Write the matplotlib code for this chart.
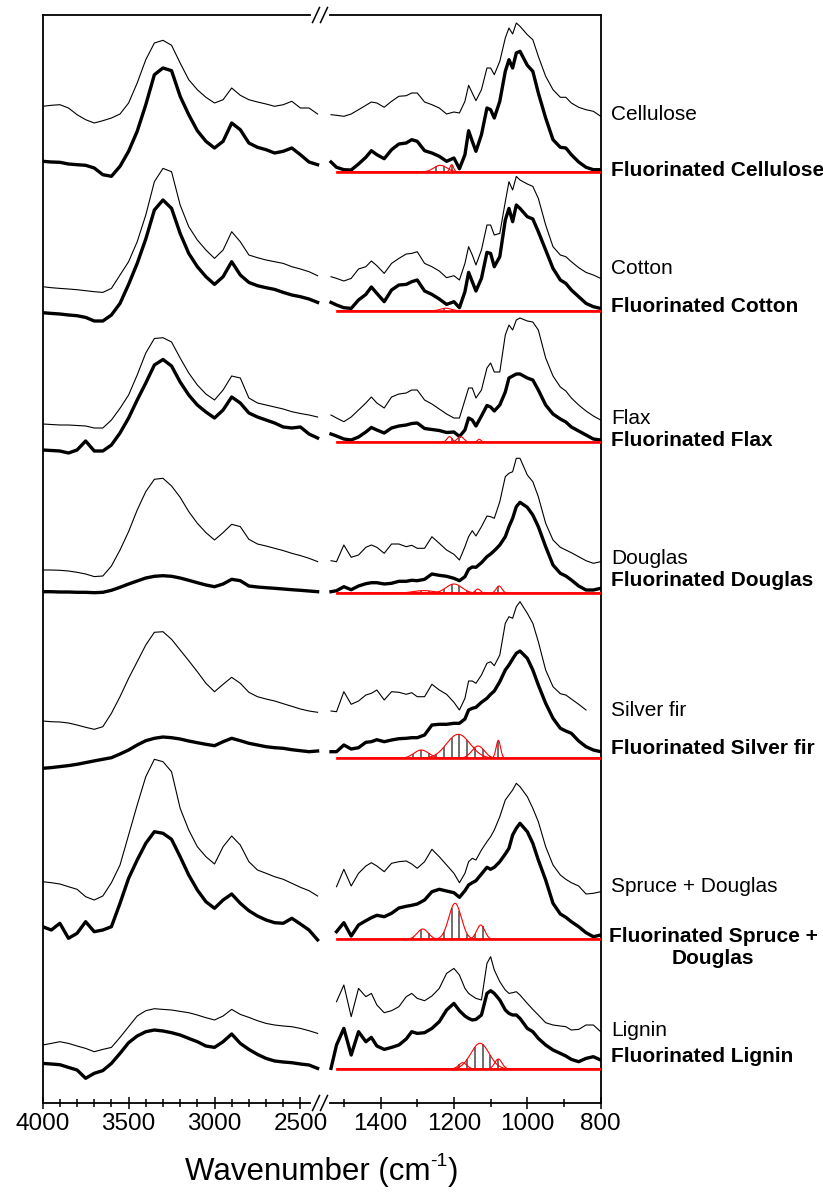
import numpy as np
import matplotlib.pyplot as plt
from matplotlib.lines import Line2D

plt.rcParams["font.family"] = ["Liberation Sans", "DejaVu Sans"]

nan = np.nan

# wavenumber grids (cm-1) where the spectra were read
W_LEFT = [4000, 3950, 3900, 3850, 3800, 3750, 3700, 3650, 3600, 3550, 3500,
          3450, 3400, 3350, 3300, 3250, 3200, 3150, 3100, 3050, 3000, 2950,
          2900, 2850, 2800, 2750, 2700, 2650, 2600, 2550, 2500, 2450, 2400]
W_RIGHT = [1535, 1520, 1500, 1480, 1460, 1440, 1425, 1410, 1390, 1370, 1350,
           1330, 1315, 1300, 1280, 1260, 1240, 1220, 1200, 1185, 1170, 1160,
           1150, 1140, 1125, 1110, 1100, 1090, 1075, 1060, 1050, 1040, 1030,
           1020, 1000, 985, 970, 950, 930, 910, 895, 880, 860, 840, 820, 800]

SAMPLES = ["Cellulose", "Cotton", "Flax", "Douglas", "Silver fir",
           "Spruce + Douglas", "Lignin"]
# vertical offset of each pair of spectra (same units as the spectra)
OFFSETS = [931, 792.3, 660.7, 509.7, 344.7, 163.7, 34]

# ---- Cellulose ----
cellulose_l = [65.7, 66.7, 67.3, 64, 57.3, 52.3, 49, 51.3, 54, 58, 69, 89, 112.3, 129, 131.7,
               126.7, 109, 92.3, 82.3, 74.7, 69, 72.3, 84, 76.7, 72.3, 70, 68, 65.7, 67.3,
               70.7, 64, 64, 58]
f_cellulose_l = [10.7, 10, 9.7, 8, 7.3, 6.7, 4, -2.7, -4.3, 5.7, 20.7, 40.7, 67.3, 97.3, 104,
                 101.3, 75.7, 57.3, 41.3, 30.7, 24, 30.7, 49, 42.3, 29, 24.7, 22.3, 19, 20.7,
                 24, 17.3, 10, 7.3]
cellulose_r = [57.3, 56.7, 55.7, 58, 62.3, 66.7, 70, 69, 64.7, 70.7, 75.7, 76.3, 79, 79, 70,
               67.3, 64, 58, 60, 59, 70.7, 86.7, 79, 71.3, 82.3, 104, 104, 97.3, 110.7, 134,
               144, 138, 149, 145.7, 137.3, 132.3, 115.7, 95.7, 82.3, 74.7, 74.7, 69, 64.7,
               62.3, 60.7, 55.7]
f_cellulose_r = [10, 4.7, 2.3, 2, 8, 14.7, 21.3, 17.3, 13.3, 22.3, 28, 29, 32.3, 30.7, 21.3,
                 19, 15.7, 10.7, 14, 3.3, 17.3, 41.3, 30.7, 20.7, 37.3, 64, 62.3, 54, 70.7,
                 100.7, 112.3, 104, 119, 120.7, 106.7, 100.7, 79, 54, 32.3, 24.7, 24, 17.3,
                 10, 4.7, 2.3, 2.3]
cellulose_peaks = [(1237, 6.7, 18), (1206, 7.3, 5)]

# ---- Cotton ----
cotton_l = [24, 23, 22.3, 21.7, 21, 20, 19, 18.3, 22.3, 35.7, 49, 69, 95.7, 129, 142.3, 139,
            105.7, 84, 70.7, 60.7, 52.3, 60.7, 79, 69, 55.7, 53, 50.7, 49, 47.3, 44, 41.7,
            39, 35]
f_cotton_l = [-2, -2.7, -3.3, -4.3, -5, -6.7, -10.3, -10.3, -4.3, 7.3, 26.3, 47.3, 71.7, 100.7,
              110.7, 102.3, 77.3, 57.3, 44, 34, 26.3, 34, 49, 35.7, 28.3, 25, 23, 21.3, 18.3,
              15.7, 14, 11.7, 8.3]
cotton_r = [34, 32.3, 29.7, 32.3, 41.7, 44, 49.7, 45, 37.3, 47.3, 52.3, 56.7, 57.3, 59, 47.3,
            44, 39.7, 33, 35, 30.7, 47.3, 64, 55.7, 45.7, 60.7, 85.7, 85.7, 75.7, 77.3, 109,
            129, 120.7, 134.3, 130.7, 126.7, 124.3, 112.3, 85.7, 64, 55.7, 54, 49, 43, 38.3,
            35.7, 32.3]
f_cotton_r = [8.3, 5.7, 3, 2.3, 10.7, 16.3, 23.7, 17.3, 9, 20.7, 25.7, 26.3, 29, 30.7, 19.7,
              16.3, 11.7, 6.3, 9, 3, 19, 38.3, 29, 19.7, 32.3, 58.3, 57.3, 44, 54, 90.7, 102.3,
              89, 105.7, 102.3, 94, 91.7, 79, 60.7, 42.3, 30.7, 27.3, 20.7, 14, 7.3, 4, 2.3]
cotton_peaks = [(1222, 2.5, 14)]

# ---- Flax ----
flax_l = [18.3, 17.8, 17.3, 17.3, 16.8, 16.3, 14.3, 14.3, 22.3, 34, 47.3, 67.3, 89.3, 103.8,
          104.6, 100.3, 84.3, 69.3, 57.3, 48.3, 42.3, 52.3, 66.3, 64.3, 44.3, 39.3, 37.3,
          35.3, 33.3, 30.6, 28.8, 27.3, 25.3]
f_flax_l = [-7.7, -8.2, -8.7, -10.7, -7.7, 1.3, -8.7, -8.7, -2.7, 9.3, 24.3, 42.3, 59.3, 77.3,
            82.8, 76.3, 60.3, 47.3, 37.3, 30.3, 24.3, 32.3, 45.3, 39.3, 29.3, 25.3, 22.3,
            19.3, 15.3, 14.3, 15.3, 8.3, 4.3]
flax_r = [27.3, 24.3, 20.6, 25.3, 32.3, 39.3, 45.3, 39.3, 34.3, 45.3, 48.3, 49.3, 52.3, 52.3,
          42.3, 38.3, 33.3, 28.3, 24.3, 24.3, 42.3, 54.3, 54.3, 44.3, 52.3, 74.3, 79.3, 70.3,
          70.3, 107.3, 117.3, 112.3, 122.3, 124.3, 121.3, 120.3, 112.3, 84.3, 66.3, 55.3,
          51.3, 44.3, 37.3, 31.3, 26.3, 22.3]
f_flax_r = [8.3, 6.3, 3.3, 2.3, 5.3, 10.3, 14.8, 12.3, 9.3, 14.3, 16.3, 17.3, 18.8, 19.3, 13.8,
            12.8, 11.8, 9.8, 10.3, 5.8, 12.3, 24.3, 22.3, 16.3, 26.3, 36.8, 35.3, 31.3, 37.3,
            50.3, 64.3, 66.3, 68.3, 68.3, 64.3, 62.3, 52.3, 37.3, 28.3, 23.3, 20.3, 15.3,
            11.3, 7.3, 3.3, 2.3]
flax_peaks = [(1212, 5.7, 7), (1182, 5.7, 9), (1131, 3, 5)]

# ---- Douglas ----
douglas_l = [23.3, 23.3, 23, 22.3, 21, 19.3, 16.7, 17.3, 27.3, 43.3, 61.7, 83.3, 101.7, 114,
             115, 107.3, 96, 81.7, 70, 60.7, 53.3, 60.7, 69, 66.7, 54, 49.3, 47.3, 45, 42.7,
             40, 37.7, 35, 31.7]
f_douglas_l = [1.6, 1.6, 1.3, 1.3, 1, 1, 0.6, 1, 3, 6, 9.3, 12.3, 15.3, 17, 17.6, 17, 15.3, 13,
               10.6, 8.3, 6.6, 9.3, 14, 12.6, 7.3, 6.3, 5.6, 5, 4.3, 3.6, 3, 2.3, 1.6]
douglas_r = [32.6, 31.6, 48.3, 36, 38.3, 46, 48.3, 46, 40, 49.3, 49.3, 46.6, 48, 45, 45, 56.6,
             50, 43.3, 39, 33.3, 46.6, 56.6, 62.6, 57.3, 66.6, 77.3, 76.6, 75, 91.6, 116.6,
             120, 121.6, 135, 135, 118.3, 111.6, 96.6, 70, 53.3, 46, 43.3, 40.6, 36.6, 32.6,
             30, 31.6]
f_douglas_r = [1.6, 2.6, 6.6, 3.6, 7.3, 9.6, 10.6, 10.6, 9.3, 10, 12, 12, 13, 12.6, 14, 19.3,
               18, 17, 15, 12.6, 16.6, 24, 26.3, 26, 30.6, 36.6, 39.3, 42.6, 48.3, 56.6, 66.6,
               75, 86.6, 91, 86, 78.3, 66.6, 46.6, 28.3, 20, 17.3, 13.3, 7.3, 3.3, 3.3, 5]
douglas_peaks = [(1282, 2.7, 30), (1200, 9.3, 22), (1135, 4.3, 7), (1077, 7.3, 8)]

# ---- Silver fir ----
silver_l = [37.3, 36.6, 36.3, 35.3, 33.3, 31, 29, 31.6, 45, 61.6, 80, 96.6, 113.3, 126, 126.6,
            119, 108.3, 97.6, 86.6, 75, 66.6, 74, 81, 75, 66, 61.6, 59.3, 57.3, 54.6, 52,
            49.3, 47.3, 46]
f_silver_l = [-10, -9.3, -8.3, -7.3, -6, -4.3, -2.6, -1, 0.6, 4.3, 8.3, 13.3, 17.6, 20, 21.3,
              20.6, 19.3, 17.3, 15.6, 14, 12.6, 16.6, 20, 17.6, 15, 13.3, 11.6, 10.6, 10, 8.6,
              7.6, 6.6, 7.3]
silver_r = [47.3, 46.6, 66.6, 54, 57.3, 63.3, 65, 68.3, 58.3, 66.6, 66, 64, 65.6, 61.6, 61.6,
            74, 68.3, 64, 56, 48.3, 60, 77.3, 77.3, 75, 83.3, 95, 96.6, 92.6, 103.3, 135,
            141.6, 140, 151.6, 156.6, 145, 135, 116.6, 88.3, 71.6, 64.6, 63.3, 59.3, 54,
            48.3, nan, nan]
f_silver_r = [6.6, 6.6, 13.3, 9.3, 10.6, 16, 16.6, 18.6, 16.6, 18.3, 19.6, 20, 20.6, 20.6,
              23.3, 33.3, 34, 34, 35, 35, 39.3, 48.3, 50, 51, 56, 60, 64, 67.3, 76.6, 88.3,
              93.3, 99.3, 105, 107.3, 100, 88.3, 73.3, 55, 40, 30, 27.3, 25, 17.3, 11.6, 8.3,
              6.6]
silver_peaks = [(1289, 8.3, 20), (1188, 24, 32), (1134, 12.3, 17), (1079, 18, 6)]

# ---- Spruce + Douglas ----
spruce_l = [57.6, 56.6, 55.3, 52.6, 50, 42.6, 39.3, 43.3, 56.6, 74.3, 104.3, 134.3, 162.6,
            180, 177.6, 167.6, 131, 109.3, 92.6, 82.6, 75.3, 92.6, 103.3, 94.3, 77.6, 69.3,
            66, 62.6, 60, 56, 52, 48.6, 43.3]
f_spruce_l = [12.6, 9.3, 16, 1, 6, 17.6, 7.6, 9.3, 12.6, 36, 61, 79.3, 96, 107.6, 106, 100,
              82.6, 64.3, 49.3, 37.6, 31, 39.3, 45.3, 36, 28.6, 23.3, 19.3, 16.6, 16, 21,
              15.3, 9.3, -0.6]
spruce_r = [nan, 52.6, 70, 53.3, 66, 73.3, 76.6, 73.3, 67.6, 76, 77.6, 78.3, 75.3, 71, 77.6,
            90, 82.6, 74.3, 66, 56.6, 66, 77.6, 81, 79.3, 89.3, 97.6, 102.6, 109.3, 122.6,
            139.3, 144.3, 149.3, 156, 152.6, 142.6, 131, 117.6, 92.6, 74.3, 64.3, 60, 56.6,
            53.3, 45.3, 46, 47.6]
f_spruce_r = [nan, 7.6, 16.6, 3.3, 14.3, 18.6, 21.6, 24, 22.6, 26, 31.3, 33, 34, 35.3, 39.3,
              47.6, 50, 48.3, 46.6, 42, 48.6, 54.3, 56.6, 58.6, 65.3, 72, 70, 72, 77.6, 85.3,
              91, 104.3, 111, 116, 107.6, 96, 79.3, 59.3, 36, 25.3, 22, 17.6, 12.6, 6.6, 2.6,
              4.3]
spruce_peaks = [(1285, 10.3, 15), (1197, 36, 17), (1127, 14.3, 11)]

# ---- Lignin ----
lignin_l = [24, 25.6, 27.3, 25.6, 23, 20.6, 17.3, 19.6, 21.6, 31.6, 42.3, 53, 58.3, 60.3, 59.6,
            59, 57.6, 56.3, 54, 51.3, 49, 53, 59.6, 54.6, 51.6, 48.3, 45.6, 44, 43, 42.3,
            40.6, 38.3, 35.6]
f_lignin_l = [5.6, 5, 4.3, 1.6, -1, -9.3, -4.3, -1.6, 5.6, 15.6, 26.3, 33, 37.3, 39, 38, 36.3,
              34, 30.6, 27.3, 23, 21.6, 27.3, 35, 25.6, 19.6, 14.6, 10.6, 8, 7, 6.3, 5, 4, 0.6]
lignin_r = [nan, 67.3, 84, 52.3, 80.6, 72.3, 75.6, 64, 56.3, 58.3, 62.3, 72.3, 75.6, 70.6,
            68.3, 73, 80.6, 95.6, 100.6, 94, 80.6, 75.6, 73, 70.6, 69, 105.6, 112.3, 99,
            87.3, 79, 75.6, 76.3, 77.3, 74, 65.6, 59.6, 54, 46.3, 44, 43, 42.3, 39, 39.6, 44,
            44, 37.3]
f_lignin_r = [0.6, 24, 40.6, 14, 37.3, 27.3, 31.6, 23, 19.6, 21.6, 24, 30, 37.3, 35.6, 36.3,
              40.6, 47.3, 59, 65.6, 58.3, 53, 50.6, 49, 49.6, 54, 75.6, 78.3, 75.6, 69, 59,
              55.6, 54, 54, 50.6, 40.6, 37.3, 30.6, 24, 19, 15.6, 13, 9.6, 7.3, 10.6, 12.3, 9]
lignin_peaks = [(1176, 6.3, 11), (1129, 25.7, 25), (1079, 10, 10)]

SPECTRA = [
    (cellulose_l, f_cellulose_l, cellulose_r, f_cellulose_r, cellulose_peaks),
    (cotton_l, f_cotton_l, cotton_r, f_cotton_r, cotton_peaks),
    (flax_l, f_flax_l, flax_r, f_flax_r, flax_peaks),
    (douglas_l, f_douglas_l, douglas_r, f_douglas_r, douglas_peaks),
    (silver_l, f_silver_l, silver_r, f_silver_r, silver_peaks),
    (spruce_l, f_spruce_l, spruce_r, f_spruce_r, spruce_peaks),
    (lignin_l, f_lignin_l, lignin_r, f_lignin_r, lignin_peaks),
]

# label positions (pixels from top) : (plain, fluorinated)
LABEL_Y = [(115, 171), (268, 307), (418, 440), (558, 580), (710, 749), (887, 947.5),
           (1031, 1057)]

W, H = 823, 1193


def fx(px):
    return px / W


def fy(py):
    return 1 - py / H


fig = plt.figure(figsize=(W / 100, H / 100), dpi=100)
ax_l = fig.add_axes([fx(42.7), fy(1103), (320 - 42.7) / W, 1088 / H])
ax_r = fig.add_axes([fx(320), fy(1103), (600.7 - 320) / W, 1088 / H])

ax_l.set_xlim(4000, 2386)
ax_r.set_xlim(1565, 800)
for ax in (ax_l, ax_r):
    ax.set_ylim(0, 1088)
    ax.set_yticks([])
    for sp in ax.spines.values():
        sp.set_linewidth(1.3)
    ax.tick_params(axis="x", which="major", direction="inout", length=9, width=1.1,
                   labelsize=17.5, pad=3)
    ax.tick_params(axis="x", which="minor", direction="inout", length=6, width=1.1)
ax_l.spines["right"].set_visible(False)
ax_r.spines["left"].set_visible(False)

ax_l.set_xticks([4000, 3500, 3000, 2500])
ax_l.set_xticks([3900, 3800, 3700, 3600, 3400, 3300, 3200, 3100, 2900, 2800, 2700,
                 2600], minor=True)
ax_r.set_xticks([1400, 1200, 1000, 800])
ax_r.set_xticks([1500, 1300, 1100, 900], minor=True)

w_fine = np.linspace(1518, 800, 900)
w_hatch = np.arange(1500, 800, -21)

for off, (thin_l, thick_l, thin_r, thick_r, peaks) in zip(OFFSETS, SPECTRA):
    ax_l.plot(W_LEFT, off + np.array(thin_l), color="black", lw=0.8)
    ax_l.plot(W_LEFT, off + np.array(thick_l), color="black", lw=2.4,
              solid_joinstyle="round")
    ax_r.plot(W_RIGHT, off + np.array(thin_r), color="black", lw=0.8)
    ax_r.plot(W_RIGHT, off + np.array(thick_r), color="black", lw=2.4,
              solid_joinstyle="round")

    # fitted gaussian components of the fluorinated spectrum
    comps = [h * np.exp(-0.5 * ((w_fine - c) / s) ** 2) for c, h, s in peaks]
    env_h = np.max([h * np.exp(-0.5 * ((w_hatch - c) / s) ** 2) for c, h, s in peaks],
                   axis=0)
    keep = env_h > 1.2
    ax_r.vlines(w_hatch[keep], off, off + env_h[keep], color="#6f6f6f", lw=1.4, zorder=2)
    for g in comps:
        ax_r.plot(w_fine, off + g, color="red", lw=0.8, zorder=3)
    ax_r.plot([1518, 800], [off, off], color="red", lw=1.9, zorder=3)

# axis break marks
for ysp in (15, 1103):
    fig.add_artist(Line2D([fx(313), fx(327)], [fy(ysp), fy(ysp)], color="white", lw=3,
                          transform=fig.transFigure, zorder=10))
    for cx in (316, 324):
        fig.add_artist(Line2D([fx(cx - 3.5), fx(cx + 3.5)], [fy(ysp + 7.5), fy(ysp - 7.5)],
                              color="black", lw=1.1, transform=fig.transFigure, zorder=11))

# sample labels
for name, (y_plain, y_fl) in zip(SAMPLES, LABEL_Y):
    fig.text(fx(611), fy(y_plain), name, fontsize=15, va="center", ha="left")
    if name == "Spruce + Douglas":
        fig.text(fx(713), fy(y_fl), "Fluorinated Spruce +\nDouglas", fontsize=15,
                 fontweight="bold", va="center", ha="center", multialignment="center",
                 linespacing=1.25)
    else:
        fig.text(fx(611), fy(y_fl), "Fluorinated " + name, fontsize=15, fontweight="bold",
                 va="center", ha="left")

# x label, built from pieces so the superscript keeps a plain hyphen
t_main = fig.text(0, fy(1172), "Wavenumber (cm", fontsize=22.5, ha="left", va="center")
t_sup = fig.text(0, fy(1162), "-1", fontsize=14, ha="left", va="center")
t_end = fig.text(0, fy(1172), ")", fontsize=22.5, ha="left", va="center")
renderer = fig.canvas.get_renderer()
widths = [t.get_window_extent(renderer).width for t in (t_main, t_sup, t_end)]
x0 = 321.7 - sum(widths) / 2
for t, wd in zip((t_main, t_sup, t_end), widths):
    t.set_x(fx(x0))
    x0 += wd

fig.savefig("out.png", dpi=100)
